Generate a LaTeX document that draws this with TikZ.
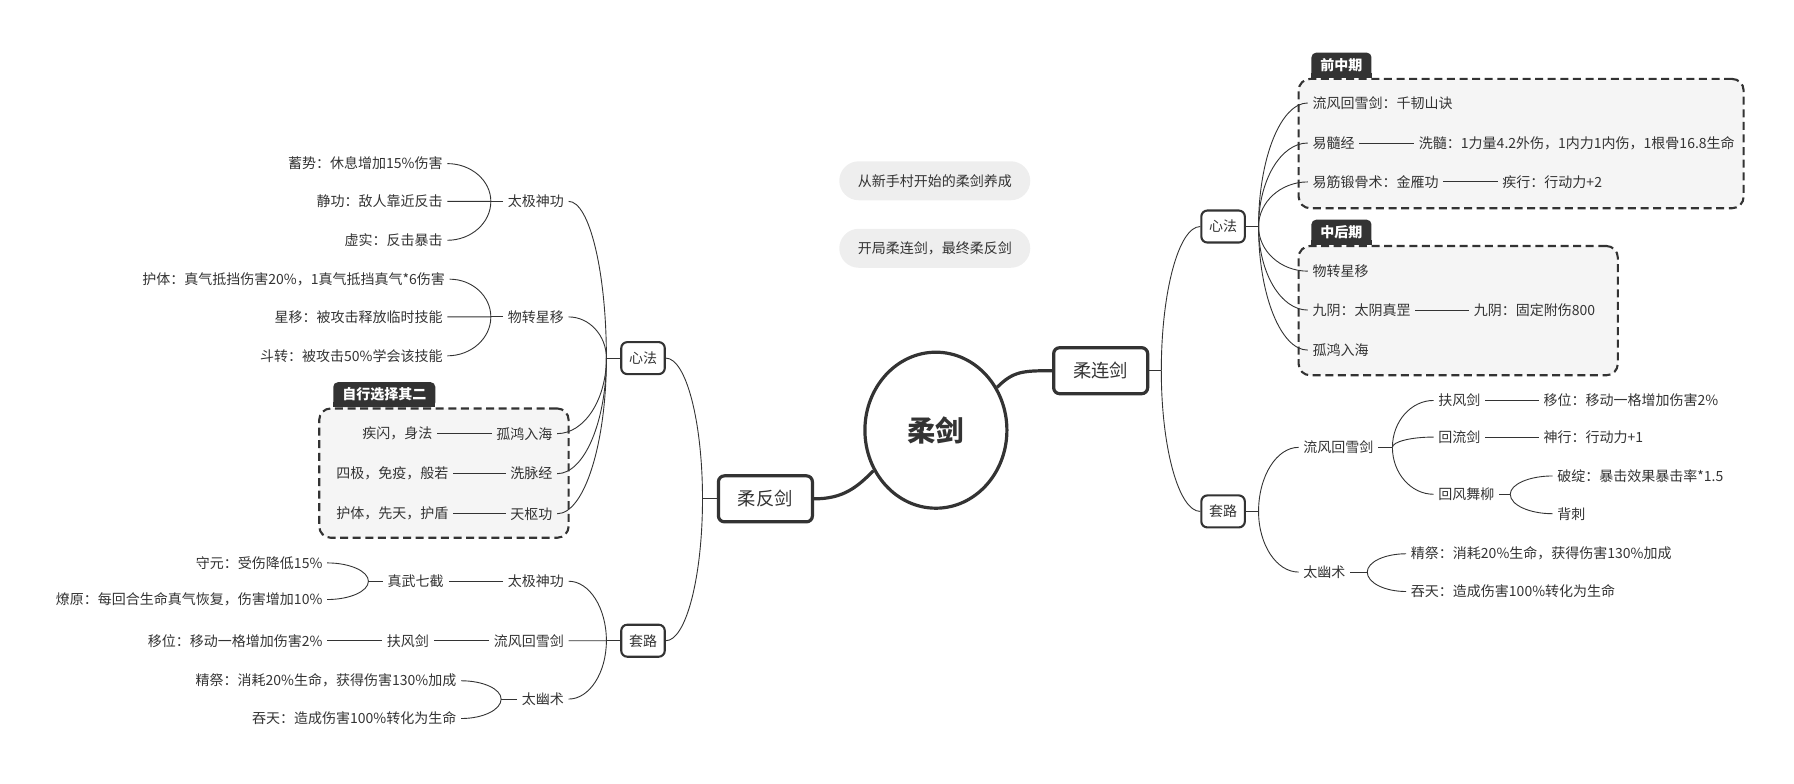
\documentclass[tikz,border=0pt]{standalone}
\usepackage{fontspec}
\setmainfont{Noto Sans CJK SC}
\usepackage{tikz}
\usetikzlibrary{shapes.geometric, calc}
\definecolor{ink}{HTML}{333333}
\definecolor{bgroup}{HTML}{F5F5F5}
\definecolor{bnote}{HTML}{EEEEEE}
\tikzstyle{rootnode} = [ellipse, draw=ink, line width=3.2pt, minimum width=142, minimum height=156, text=ink, font=\fontsize{28.5}{32}\selectfont\bfseries]
\tikzstyle{mainbox} = [rectangle, draw=ink, line width=3.2pt, rounded corners=6pt, minimum width=94, minimum height=46, text=ink, font=\fontsize{18.3}{22}\selectfont]
\tikzstyle{subbox} = [rectangle, draw=ink, line width=2.1pt, rounded corners=6pt, minimum width=43.5, minimum height=32, inner sep=2pt, text=ink, font=\fontsize{14}{17}\selectfont]
\tikzstyle{leaf} = [text=ink, inner sep=4.6pt, font=\fontsize{14}{17}\selectfont]
\tikzstyle{leafL} = [leaf, anchor=east]
\tikzstyle{leafR} = [leaf, anchor=west]
\tikzstyle{link} = [draw=ink, line width=0.9pt]
\tikzstyle{curvelink} = [link, to path={.. controls ($(\tikztostart)!0.55!(\tikztostart |- \tikztotarget)$) and ($(\tikztotarget)!0.55!(\tikztostart |- \tikztotarget)$) .. (\tikztotarget)}]
\tikzstyle{thicklink} = [draw=ink, line width=3.2pt]
\tikzstyle{groupbox} = [rectangle, draw=ink, fill=bgroup, line width=2.1pt, dash pattern=on 8pt off 4.6pt, rounded corners=11.5pt]
\tikzstyle{grouptag} = [fill=ink, text=white, rounded corners=4.6pt, inner xsep=9pt, minimum height=25, anchor=south west, font=\fontsize{14}{17}\selectfont\bfseries]
\tikzstyle{notebox} = [fill=bnote, rounded corners=19.5pt, minimum width=191, minimum height=39, text=ink, font=\fontsize{14}{17}\selectfont]

\begin{document}
\begin{tikzpicture}[x=1.1441pt, y=-1.1441pt]
\useasboundingbox (0,0) rectangle (1568,685.2);

%% groups
\node[groupbox, minimum width=249.4, minimum height=129.3] at (388,413.5) (choose) {};
\node[grouptag] at ([xshift=14.9pt]choose.north west) (choosetag) {自行选择其二};
\fill[ink] ([yshift=5pt]choosetag.south west) rectangle (choosetag.south east);

\node[groupbox, minimum width=445, minimum height=129.3] at (1329.5,125.5) (early) {};
\node[grouptag] at ([xshift=13.7pt]early.north west) (earlytag) {前中期};
\fill[ink] ([yshift=5pt]earlytag.south west) rectangle (earlytag.south east);

\node[groupbox, minimum width=319.2, minimum height=129.3] at (1274.5,271.5) (late) {};
\node[grouptag] at ([xshift=13.7pt]late.north west) (latetag) {中后期};
\fill[ink] ([yshift=5pt]latetag.south west) rectangle (latetag.south east);

%% notes
\node[notebox] at (817,158) (note1) {从新手村开始的柔剑养成};
\node[notebox] at (817,217) (note2) {开局柔连剑，最终柔反剑};

%% centre
\node[rootnode] at (818,376) (root) {柔剑};
\node[mainbox] at (962,324) (rlj) {柔连剑};
\node[mainbox] at (669,436) (rfj) {柔反剑};
\path[thicklink] (root.35) .. controls +(14,-14) and +(-26,0) .. (rlj.west);
\path[thicklink] (root.213) .. controls +(-14,14) and +(26,0) .. (rfj.east);

%% left: rou fan jian
\node[subbox] at (562,313) (lxf) {心法};
\node[subbox] at (562,560) (ltl) {套路};
\coordinate (jrfj) at (614,436);
\path[link] (rfj.west) -- (jrfj);
\foreach \kid in {lxf, ltl} \path[curvelink] (jrfj) to (\kid.east);

\node[leafL] at (497,176) (ltj) {太极神功};
\node[leafL] at (497,277) (lwz) {物转星移};
\node[leafL] at (487,379) (lgh) {孤鸿入海};
\node[leafL] at (487,414) (lxm) {洗脉经};
\node[leafL] at (487,449) (lts) {天枢功};
\coordinate (jlxf) at (530,313);
\path[link] (lxf.west) -- (jlxf);
\foreach \kid in {ltj, lwz, lgh, lxm, lts} \path[curvelink] (jlxf) to (\kid.east);

\node[leafL] at (391,143) (xushi) {蓄势：休息增加15\%伤害};
\node[leafL] at (391,176) (jinggong) {静功：敌人靠近反击};
\node[leafL] at (391,210) (xushi2) {虚实：反击暴击};
\coordinate (jltj) at (429,176);
\path[link] (ltj.west) -- (jltj);
\foreach \kid in {xushi, jinggong, xushi2} \path[curvelink] (jltj) to (\kid.east);

\node[leafL] at (393,244) (huti) {护体：真气抵挡伤害20\%，1真气抵挡真气*6伤害};
\node[leafL] at (391,277) (xingyi) {星移：被攻击释放临时技能};
\node[leafL] at (391,311) (douzhuan) {斗转：被攻击50\%学会该技能};
\coordinate (jlwz) at (429,277);
\path[link] (lwz.west) -- (jlwz);
\foreach \kid in {huti, xingyi, douzhuan} \path[curvelink] (jlwz) to (\kid.east);

\node[leafL] at (382,379) (jishan) {疾闪，身法};
\node[leafL] at (396,414) (siji) {四极，免疫，般若};
\node[leafL] at (396,449) (hudun) {护体，先天，护盾};
\path[link] (lgh.west) -- (jishan.east);
\path[link] (lxm.west) -- (siji.east);
\path[link] (lts.west) -- (hudun.east);

\node[leafL] at (497,508) (ltj2) {太极神功};
\node[leafL] at (497,560) (llf) {流风回雪剑};
\node[leafL] at (497,611) (lty) {太幽术};
\coordinate (jltl) at (530,560);
\path[link] (ltl.west) -- (jltl);
\foreach \kid in {ltj2, llf, lty} \path[curvelink] (jltl) to (\kid.east);

\node[leafL] at (392,508) (zwqj) {真武七截};
\path[link] (ltj2.west) -- (zwqj.east);
\node[leafL] at (286,492) (shouyuan) {守元：受伤降低15\%};
\node[leafL] at (286,524) (liaoyuan) {燎原：每回合生命真气恢复，伤害增加10\%};
\coordinate (jzw) at (322,508);
\path[link] (zwqj.west) -- (jzw);
\foreach \kid in {shouyuan, liaoyuan} \path[curvelink] (jzw) to (\kid.east);

\node[leafL] at (379,560) (lff) {扶风剑};
\node[leafL] at (286,560) (lyw) {移位：移动一格增加伤害2\%};
\path[link] (llf.west) -- (lff.east);
\path[link] (lff.west) -- (lyw.east);

\node[leafL] at (403,595) (ljj) {精祭：消耗20\%生命，获得伤害130\%加成};
\node[leafL] at (403,628) (ltt) {吞天：造成伤害100\%转化为生命};
\coordinate (jlty) at (438,611);
\path[link] (lty.west) -- (jlty);
\foreach \kid in {ljj, ltt} \path[curvelink] (jlty) to (\kid.east);

%% right: rou lian jian
\node[subbox] at (1069,198) (rxf) {心法};
\node[subbox] at (1069,447) (rtl) {套路};
\coordinate (jrlj) at (1015,324);
\path[link] (rlj.east) -- (jrlj);
\foreach \kid in {rxf, rtl} \path[curvelink] (jrlj) to (\kid.west);

\node[leafR] at (1143,90) (lfhx) {流风回雪剑：千韧山诀};
\node[leafR] at (1143,125) (ysj) {易髓经};
\node[leafR] at (1143,159) (yjdg) {易筋锻骨术：金雁功};
\node[leafR] at (1143,237) (rwz) {物转星移};
\node[leafR] at (1143,271) (jiuyin) {九阴：太阴真罡};
\node[leafR] at (1143,306) (rgh) {孤鸿入海};
\coordinate (jrxf) at (1100,198);
\path[link] (rxf.east) -- (jrxf);
\foreach \kid in {lfhx, ysj, yjdg, rwz, jiuyin, rgh} \path[curvelink] (jrxf) to (\kid.west);

\node[leafR] at (1236,125) (xisui) {洗髓：1力量4.2外伤，1内力1内伤，1根骨16.8生命};
\node[leafR] at (1309,159) (jixing) {疾行：行动力+2};
\node[leafR] at (1284,271) (jiuyin2) {九阴：固定附伤800};
\path[link] (ysj.east) -- (xisui.west);
\path[link] (yjdg.east) -- (jixing.west);
\path[link] (jiuyin.east) -- (jiuyin2.west);

\node[leafR] at (1135,391) (rlf) {流风回雪剑};
\node[leafR] at (1135,500) (rty) {太幽术};
\coordinate (jrtl) at (1100,447);
\path[link] (rtl.east) -- (jrtl);
\foreach \kid in {rlf, rty} \path[curvelink] (jrtl) to (\kid.west);

\node[leafR] at (1253,350) (rff) {扶风剑};
\node[leafR] at (1253,382) (rhl) {回流剑};
\node[leafR] at (1253,432) (rhf) {回风舞柳};
\coordinate (jrlf) at (1217,391);
\path[link] (rlf.east) -- (jrlf);
\foreach \kid in {rff, rhl, rhf} \path[curvelink] (jrlf) to (\kid.west);

\node[leafR] at (1345,350) (ryw) {移位：移动一格增加伤害2\%};
\node[leafR] at (1345,382) (shenxing) {神行：行动力+1};
\path[link] (rff.east) -- (ryw.west);
\path[link] (rhl.east) -- (shenxing.west);

\node[leafR] at (1357,416) (pozhan) {破绽：暴击效果暴击率*1.5};
\node[leafR] at (1357,449) (beici) {背刺};
\coordinate (jrhf) at (1320,432);
\path[link] (rhf.east) -- (jrhf);
\foreach \kid in {pozhan, beici} \path[curvelink] (jrhf) to (\kid.west);

\node[leafR] at (1229,484) (rjj) {精祭：消耗20\%生命，获得伤害130\%加成};
\node[leafR] at (1229,517) (rtt) {吞天：造成伤害100\%转化为生命};
\coordinate (jrty) at (1195,500);
\path[link] (rty.east) -- (jrty);
\foreach \kid in {rjj, rtt} \path[curvelink] (jrty) to (\kid.west);
\end{tikzpicture}
\end{document}
